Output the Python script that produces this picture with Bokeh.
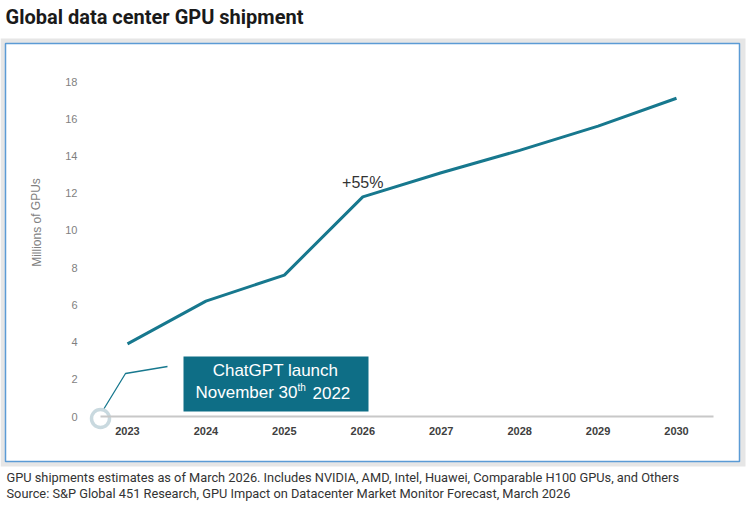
from bokeh.plotting import figure
from bokeh.models import LinearAxis, FixedTicker, Range1d
from bokeh.core.properties import value
from bokeh.embed import file_html
from bokeh.resources import INLINE

# ---- data ----
years = [2023, 2024, 2025, 2026, 2027, 2028, 2029, 2030]
shipments = [3.9, 6.2, 7.6, 11.8, 13.1, 14.3, 15.6, 17.1]   # millions of GPUs
y_ticks = [0, 2, 4, 6, 8, 10, 12, 14, 16, 18]
year_labels = [str(y) for y in years]

title_text = "Global data center GPU shipment"
y_label = "Millions of GPUs"
growth_label = "+55%"
callout_line1 = "ChatGPT launch"
callout_line2a = "November 30"
callout_sup = "th"
callout_line2b = "2022"
caption1 = "GPU shipments estimates as of March 2026. Includes NVIDIA, AMD, Intel, Huawei, Comparable H100 GPUs, and Others"
caption2 = "Source: S&P Global 451 Research, GPU Impact on Datacenter Market Monitor Forecast, March 2026"

# ---- layout calibration (canvas pixels) ----
W, H = 750, 515
X0_PX, X_STEP = 127.0, 78.43     # pixel of first year, pixels per year
Y0_PX, Y_STEP = 416.0, 18.61     # pixel of value 0, pixels per unit

def fx(px):
    return years[0] + (px - X0_PX) / X_STEP

def fy(py):
    return (Y0_PX - py) / Y_STEP

x_range = Range1d(fx(0), fx(W))
y_range = Range1d(fy(H), fy(0))

TEAL = "#17788e"
BOX = "#0e6e86"

p = figure(width=W, height=H, x_range=x_range, y_range=y_range,
           output_backend="svg", toolbar_location=None, min_border=0,
           x_axis_location=None, y_axis_location=None,
           outline_line_color=None, background_fill_color="white",
           border_fill_color="white")
p.grid.visible = False

# outer grey band and inner white panel with blue border
p.quad(left=[fx(0)], right=[fx(745)], top=[fy(38)], bottom=[fy(466)],
       fill_color="#e6e6e6", line_color=None)
p.quad(left=[fx(5)], right=[fx(739)], top=[fy(43)], bottom=[fy(461)],
       fill_color="white", line_color="#5b9bd5", line_width=1.5)

# title
p.text(x=[fx(5)], y=[fy(16)], text=[title_text], text_font=value("Roboto"),
       text_font_style="bold", text_font_size="20px", text_baseline="middle",
       text_color="#1a1a1a")

# captions
p.text(x=[fx(6)], y=[fy(477)], text=[caption1], text_font=value("Roboto"),
       text_font_size="12.8px", text_baseline="middle", text_color="#333333")
p.text(x=[fx(6)], y=[fy(493)], text=[caption2], text_font=value("Roboto"),
       text_font_size="12.8px", text_baseline="middle", text_color="#333333")

# axes
axis_left_x = fx(100)
axis_right_x = fx(713)

xaxis = LinearAxis(fixed_location=0, ticker=FixedTicker(ticks=years),
                   bounds=(axis_left_x, axis_right_x))
xaxis.major_label_overrides = {y: lab for y, lab in zip(years, year_labels)}
xaxis.axis_line_color = "#c8c8c8"
xaxis.axis_line_width = 2
xaxis.major_tick_line_color = None
xaxis.minor_tick_line_color = None
xaxis.major_tick_out = 0
xaxis.major_tick_in = 0
xaxis.major_label_standoff = 10
xaxis.major_label_text_font = "Liberation Sans"
xaxis.major_label_text_font_style = "bold"
xaxis.major_label_text_font_size = "11px"
xaxis.major_label_text_color = "#404040"
p.add_layout(xaxis, "below")

yaxis = LinearAxis(fixed_location=axis_left_x, ticker=FixedTicker(ticks=y_ticks))
yaxis.axis_line_color = None
yaxis.major_tick_line_color = None
yaxis.minor_tick_line_color = None
yaxis.major_tick_out = 0
yaxis.major_tick_in = 0
yaxis.major_label_standoff = 23
yaxis.major_label_text_font = "Liberation Sans"
yaxis.major_label_text_font_size = "11px"
yaxis.major_label_text_color = "#7f7f7f"
p.add_layout(yaxis, "left")

p.text(x=[fx(36)], y=[fy(222)], text=[y_label], angle=1.5708,
       text_font=value("Liberation Sans"), text_font_size="12px",
       text_align="center", text_baseline="middle", text_color="#7f7f7f")

# data line
p.line(years, shipments, line_color=TEAL, line_width=3)

# growth label
p.text(x=[years[3]], y=[shipments[3] + 14 / Y_STEP], text=[growth_label],
       text_font=value("Liberation Sans"), text_font_size="16px",
       text_align="center", text_baseline="middle", text_color="#333333")

# ChatGPT launch callout
p.line([axis_left_x + 3 / X_STEP, fx(125), fx(167)],
       [fy(409), fy(373), fy(366)], line_color=TEAL, line_width=1.3)
p.scatter([axis_left_x], [fy(418)], size=18, fill_color="white",
          line_color="#c9d9df", line_width=3.5)
p.quad(left=[fx(183)], right=[fx(368)], top=[fy(356)], bottom=[fy(411)],
       fill_color=BOX, line_color=None)
p.text(x=[fx(275)], y=[fy(370)], text=[callout_line1],
       text_font=value("Liberation Sans"), text_font_size="17px",
       text_align="center", text_baseline="middle", text_color="white")
p.text(x=[fx(297)], y=[fy(392)], text=[callout_line2a],
       text_font=value("Liberation Sans"), text_font_size="17px",
       text_align="right", text_baseline="middle", text_color="white")
p.text(x=[fx(297)], y=[fy(387)], text=[callout_sup],
       text_font=value("Liberation Sans"), text_font_size="10px",
       text_align="left", text_baseline="middle", text_color="white")
p.text(x=[fx(312)], y=[fy(392)], text=[callout_line2b],
       text_font=value("Liberation Sans"), text_font_size="17px",
       text_align="left", text_baseline="middle", text_color="white")

open("out.html", "w").write(file_html(p, INLINE))
